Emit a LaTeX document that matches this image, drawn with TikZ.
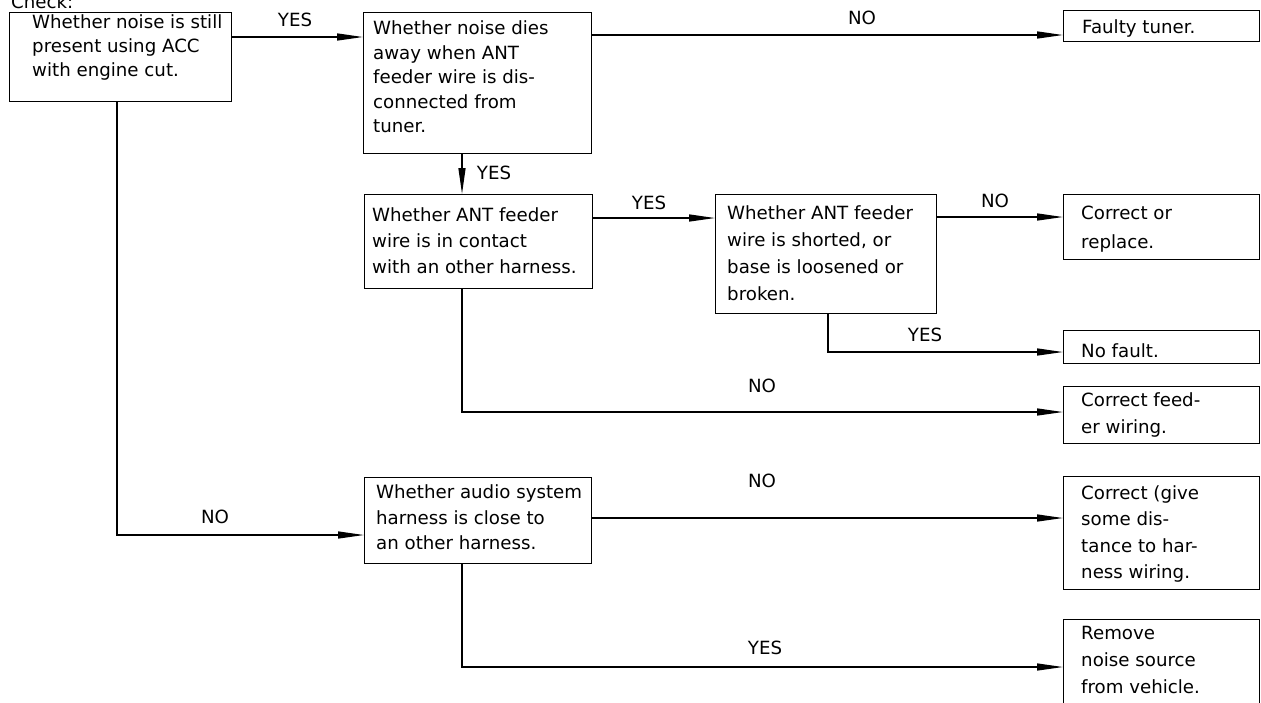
\documentclass[tikz,border=0pt]{standalone}
\usepackage{fontspec}
\setmainfont{DejaVu Sans}
\usetikzlibrary{arrows.meta}
\begin{document}
\begin{tikzpicture}[x=1pt,y=-1pt,
  box/.style={draw, line width=1.4pt, anchor=north west, inner sep=0pt},
  txt/.style={font=\fontsize{18.2}{#1}\selectfont, anchor=north west, inner sep=0pt, align=left},
  lbl/.style={font=\fontsize{18.2}{21}\selectfont, inner sep=0pt},
  conn/.style={line width=1.3pt},
  arr/.style={conn, -{Triangle[length=26pt,width=7pt]}}]
\useasboundingbox (0,0) rectangle (1261,702);
% title
\node[lbl, anchor=base west] (check) at (11,8) {Check:};
% boxes
\node[box, minimum width=222pt, minimum height=89pt] (A) at (9,12) {};
\node[box, minimum width=228pt, minimum height=141pt] (B) at (363,12) {};
\node[box, minimum width=196pt, minimum height=31pt] (F) at (1063,10) {};
\node[box, minimum width=228pt, minimum height=94pt] (C) at (364,194) {};
\node[box, minimum width=221pt, minimum height=119pt] (D) at (715,194) {};
\node[box, minimum width=196pt, minimum height=65pt] (CR) at (1063,194) {};
\node[box, minimum width=196pt, minimum height=33pt] (NF) at (1063,330) {};
\node[box, minimum width=196pt, minimum height=57pt] (CF) at (1063,386) {};
\node[box, minimum width=227pt, minimum height=86pt] (E) at (364,477) {};
\node[box, minimum width=196pt, minimum height=113pt] (CG) at (1063,476) {};
\node[box, minimum width=196pt, minimum height=110pt] (RM) at (1063,619) {};
% texts
\node[txt=24] (At) at (32,14.5) {Whether noise is still\\present using ACC\\with engine cut.};
\node[txt=24.5] (Bt) at (373,20.5) {Whether noise dies\\away when ANT\\feeder wire is dis-\\connected from\\tuner.};
\node[txt=21] (Ft) at (1082,19.5) {Faulty tuner.};
\node[txt=26] (Ct) at (372,207.5) {Whether ANT feeder\\wire is in contact\\with an other harness.};
\node[txt=27] (Dt) at (727,205.5) {Whether ANT feeder\\wire is shorted, or\\base is loosened or\\broken.};
\node[txt=29] (CRt) at (1081,205.5) {Correct or\\replace.};
\node[txt=21] (NFt) at (1081,343.5) {No fault.};
\node[txt=27] (CFt) at (1081,392.5) {Correct feed-\\er wiring.};
\node[txt=25.5] (Et) at (376,484.5) {Whether audio system\\harness is close to\\an other harness.};
\node[txt=26.3] (CGt) at (1081,485.5) {Correct (give\\some dis-\\tance to har-\\ness wiring.};
\node[txt=27] (RMt) at (1081,626.5) {Remove\\noise source\\from vehicle.};
% connectors
\draw[arr] (A.east |- 0,37) -- (B.west |- 0,37);
\node[lbl] (l1) at (295,20) {YES};
\draw[arr] (B.east |- 0,35) -- (F.west |- 0,35);
\node[lbl] (l2) at (862,18) {NO};
\draw[arr] (B.south -| 462,0) -- (C.north -| 462,0);
\node[lbl] (l3) at (494,173) {YES};
\draw[arr] (C.east |- 0,218) -- (D.west |- 0,218);
\node[lbl] (l4) at (649,203) {YES};
\draw[arr] (D.east |- 0,217) -- (CR.west |- 0,217);
\node[lbl] (l5) at (995,201) {NO};
\draw[arr] (D.south -| 828,0) -- (828,352) -- (NF.west |- 0,352);
\node[lbl] (l6) at (925,335) {YES};
\draw[arr] (C.south -| 462,0) -- (462,412) -- (CF.west |- 0,412);
\node[lbl] (l7) at (762,386) {NO};
\draw[arr] (A.south -| 117,0) -- (117,535) -- (E.west |- 0,535);
\node[lbl] (l8) at (215,517) {NO};
\draw[arr] (E.east |- 0,518) -- (CG.west |- 0,518);
\node[lbl] (l9) at (762,481) {NO};
\draw[arr] (E.south -| 462,0) -- (462,667) -- (RM.west |- 0,667);
\node[lbl] (l10) at (765,648) {YES};
\end{tikzpicture}
\end{document}
